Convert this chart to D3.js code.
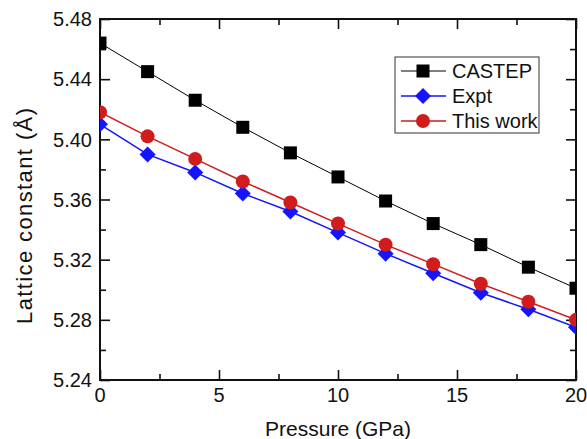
<!DOCTYPE html>
<html lang="en">
<head>
    <meta charset="UTF-8">
    <title>Lattice constant vs pressure</title>
    <script src="https://cdnjs.cloudflare.com/ajax/libs/d3/7.8.5/d3.min.js"></script>
    <style>
        body{
            margin:0;
            background:#fff;
        }
        svg{
            display:block;
            font-family:"Liberation Sans", Arial, Helvetica, sans-serif;
        }
    </style>
</head>
<body>
    <svg width="587" height="439"></svg>
    <script>
// values
const pressure = [0, 2, 4, 6, 8, 10, 12, 14, 16, 18, 20];
const castep   = [5.464, 5.445, 5.426, 5.408, 5.391, 5.375, 5.359, 5.344, 5.330, 5.315, 5.301];
const expt     = [5.410, 5.390, 5.378, 5.364, 5.352, 5.338, 5.324, 5.311, 5.298, 5.287, 5.275];
const thisWork = [5.418, 5.402, 5.387, 5.372, 5.358, 5.344, 5.330, 5.317, 5.304, 5.292, 5.280];

const seriesNames = ["CASTEP", "Expt", "This work"];
const xTicks = [0, 5, 10, 15, 20];
const yTicks = [5.24, 5.28, 5.32, 5.36, 5.40, 5.44, 5.48];

const series = [
    {name: seriesNames[0], values: castep,   color: "#000000", marker: "square",  width: 1},
    {name: seriesNames[1], values: expt,     color: "#1414ff", marker: "diamond", width: 1.5},
    {name: seriesNames[2], values: thisWork, color: "#d01c1c", marker: "circle",  width: 1.5}
];

const svg = d3.select("svg");
const pLeft = 100, pRight = 576, pTop = 19, pBottom = 380;

const x = d3.scaleLinear().domain([0, 20]).range([pLeft, pRight]);
const y = d3.scaleLinear().domain([5.24, 5.48]).range([pBottom, pTop]);

// clip marks to the plot box
svg.append("clipPath").attr("id", "plotclip")
    .append("rect")
    .attr("x", pLeft).attr("y", pTop)
    .attr("width", pRight - pLeft).attr("height", pBottom - pTop);

const xMinor = d3.range(0, 20.01, 2.5).filter(v => !xTicks.includes(v));
const yMinor = d3.range(5.26, 5.48, 0.04).map(v => +v.toFixed(2));

// axes: ticks point inward
function tickAxis(axis, scale, major, minor, transform) {
    const g1 = svg.append("g").attr("transform", transform)
        .call(axis(scale).tickValues(major).tickSize(10).tickFormat(""));
    const g2 = svg.append("g").attr("transform", transform)
        .call(axis(scale).tickValues(minor).tickSize(6).tickFormat(""));
    [g1, g2].forEach(g => {
        g.selectAll(".domain").remove();
        g.selectAll("line").attr("stroke", "#111").attr("stroke-width", 1.6);
    });
}
tickAxis(d3.axisTop, x, xTicks, xMinor, `translate(0,${pBottom})`);
tickAxis(d3.axisBottom, x, xTicks, xMinor, `translate(0,${pTop})`);
tickAxis(d3.axisRight, y, yTicks, yMinor, `translate(${pLeft},0)`);
tickAxis(d3.axisLeft, y, yTicks, yMinor, `translate(${pRight},0)`);

// tick labels
svg.append("g").selectAll("text")
    .data(xTicks).enter().append("text")
    .attr("x", d => x(d))
    .attr("y", 402)
    .attr("text-anchor", "middle")
    .attr("font-size", 20)
    .attr("fill", "#111")
    .text(d => d);

svg.append("g").selectAll("text")
    .data(yTicks).enter().append("text")
    .attr("x", 92)
    .attr("y", d => y(d))
    .attr("dy", "0.36em")
    .attr("text-anchor", "end")
    .attr("font-size", 20)
    .attr("fill", "#111")
    .text(d => d.toFixed(2));

// frame
svg.append("rect")
    .attr("x", pLeft).attr("y", pTop)
    .attr("width", pRight - pLeft).attr("height", pBottom - pTop)
    .attr("fill", "none")
    .attr("stroke", "#111")
    .attr("stroke-width", 2);

// axis titles
svg.append("text")
    .attr("x", (pLeft + pRight) / 2)
    .attr("y", 436)
    .attr("text-anchor", "middle")
    .attr("font-size", 21)
    .attr("fill", "#111")
    .text("Pressure (GPa)");

svg.append("text")
    .attr("transform", "translate(32,216) rotate(-90)")
    .attr("x", -108)
    .attr("font-size", 22)
    .attr("fill", "#111")
    .attr("textLength", 216)
    .attr("lengthAdjust", "spacing")
    .text("Lattice constant (Å)");

// marker shapes
function drawMarker(sel, s, cx, cy) {
    if (s.marker === "square") {
        sel.append("rect")
            .attr("x", cx - 6.5).attr("y", cy - 6.5)
            .attr("width", 13).attr("height", 13)
            .attr("fill", s.color);
    } else if (s.marker === "diamond") {
        sel.append("path")
            .attr("d", `M${cx},${cy - 8}L${cx + 8},${cy}L${cx},${cy + 8}L${cx - 8},${cy}Z`)
            .attr("fill", s.color);
    } else {
        sel.append("circle")
            .attr("cx", cx).attr("cy", cy).attr("r", 7)
            .attr("fill", s.color);
    }
}

const line = d3.line().x(d => x(d[0])).y(d => y(d[1]));
const plot = svg.append("g").attr("clip-path", "url(#plotclip)");

series.forEach(s => {
    const pts = pressure.map((p, i) => [p, s.values[i]]);
    plot.append("path")
        .datum(pts)
        .attr("d", line)
        .attr("fill", "none")
        .attr("stroke", s.color)
        .attr("stroke-width", s.width);
    const mg = plot.append("g");
    pts.forEach(p => drawMarker(mg, s, x(p[0]), y(p[1])));
});

// legend
const legend = svg.append("g");
legend.append("rect")
    .attr("x", 395).attr("y", 57)
    .attr("width", 144).attr("height", 76)
    .attr("fill", "#fff")
    .attr("stroke", "#333")
    .attr("stroke-width", 1);

series.forEach((s, i) => {
    const ly = 71 + i * 25;
    legend.append("line")
        .attr("x1", 401).attr("x2", 446)
        .attr("y1", ly).attr("y2", ly)
        .attr("stroke", s.color)
        .attr("stroke-width", s.width);
    drawMarker(legend, s, 423, ly);
    legend.append("text")
        .attr("x", 452)
        .attr("y", ly)
        .attr("dy", "0.36em")
        .attr("font-size", 20)
        .attr("fill", "#111")
        .text(s.name);
});
    </script>
</body>
</html>
